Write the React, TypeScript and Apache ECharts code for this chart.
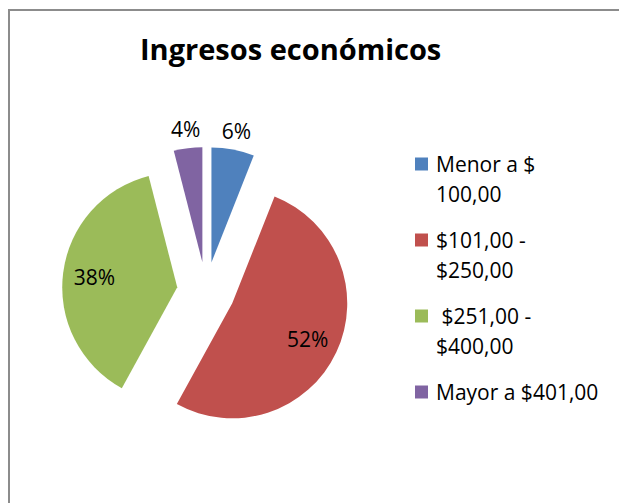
import React, { useEffect, useRef } from "react";
import * as echarts from "echarts";

const categories = ["Menor a $ 100,00", "$101,00 - $250,00", " $251,00 - $400,00", "Mayor a $401,00"];
const legendLines = [["Menor a $", "100,00"], ["$101,00 -", "$250,00"], [" $251,00 -", "$400,00"], ["Mayor a $401,00", ""]];
const values = [6, 52, 38, 4];
const colors = ["#4F81BD", "#C0504D", "#9BBB59", "#8064A2"];
const insideLabel = [false, true, true, false];

const FONT = "'Open Sans', Lato, sans-serif";
const LH = 30;

export default function App() {
  const ref = useRef<HTMLDivElement>(null);
  useEffect(() => {
    if (!ref.current) return;
    const chart = echarts.init(ref.current, undefined, { renderer: "svg" });
    const center = [206, 291];
    const offset = 29;
    const labelOffsets = [[0, 0], [-6, 7], [2, 3], [0, 0]];
    const mkData = (labelFn: (i: number) => boolean) =>
      categories.map((name, i) => ({
        name,
        value: values[i],
        selected: true,
        label: { show: labelFn(i), offset: labelOffsets[i] },
      }));
    const labelCommon = {
      position: "inside",
      color: "#000",
      fontFamily: FONT,
      fontSize: 21,
      formatter: (p: any) => p.value + "%",
    };
    chart.setOption({
      animation: false,
      backgroundColor: "#fff",
      color: colors,
      title: {
        text: "Ingresos económicos",
        left: 140,
        top: 34,
        padding: 0,
        textStyle: { fontFamily: FONT, fontWeight: "bold", fontSize: 29, color: "#000" },
      },
      legend: {
        orient: "vertical",
        left: 415,
        top: 119,
        padding: 0,
        itemWidth: 13,
        itemHeight: 13,
        itemGap: -14,
        icon: "rect",
        selectedMode: false,
        formatter: (name: string) => "\n" + legendLines[categories.indexOf(name)].join("\n"),
        textStyle: { fontFamily: FONT, fontSize: 21, color: "#000", lineHeight: LH, padding: [0, 0, 0, 3] },
      },
      series: [
        {
          type: "pie",
          center,
          radius: [0, 115],
          startAngle: 90,
          clockwise: true,
          selectedMode: "multiple",
          selectedOffset: offset,
          avoidLabelOverlap: false,
          silent: true,
          label: { show: false },
          labelLine: { show: false },
          itemStyle: { borderWidth: 0 },
          emphasis: { disabled: true },
          select: { itemStyle: { borderWidth: 0 } },
          data: mkData(() => false),
        },
        {
          type: "pie",
          center,
          radius: [0, 161],
          startAngle: 90,
          clockwise: true,
          selectedMode: "multiple",
          selectedOffset: offset,
          avoidLabelOverlap: false,
          silent: true,
          itemStyle: { color: "rgba(0,0,0,0)", borderWidth: 0 },
          select: { itemStyle: { color: "rgba(0,0,0,0)", borderWidth: 0 } },
          emphasis: { disabled: true },
          labelLine: { show: false },
          label: labelCommon,
          data: mkData((i) => insideLabel[i]),
        },
        {
          type: "pie",
          center,
          radius: [0, 262],
          startAngle: 90,
          clockwise: true,
          selectedMode: "multiple",
          selectedOffset: offset,
          avoidLabelOverlap: false,
          silent: true,
          itemStyle: { color: "rgba(0,0,0,0)", borderWidth: 0 },
          select: { itemStyle: { color: "rgba(0,0,0,0)", borderWidth: 0 } },
          emphasis: { disabled: true },
          labelLine: { show: false },
          label: labelCommon,
          data: mkData((i) => !insideLabel[i]),
        },
      ],
    });
    return () => chart.dispose();
  }, []);
  return (
    <div style={{ position: "fixed", left: 0, top: 0, width: 619, height: 503, background: "#fff", overflow: "hidden" }}>
      <div ref={ref} style={{ position: "absolute", left: 0, top: 0, width: 619, height: 503 }} />
      <div
        style={{
          position: "absolute",
          left: 8,
          top: 9,
          width: 700,
          height: 600,
          border: "2px solid #8c8c8c",
          pointerEvents: "none",
        }}
      />
    </div>
  );
}
